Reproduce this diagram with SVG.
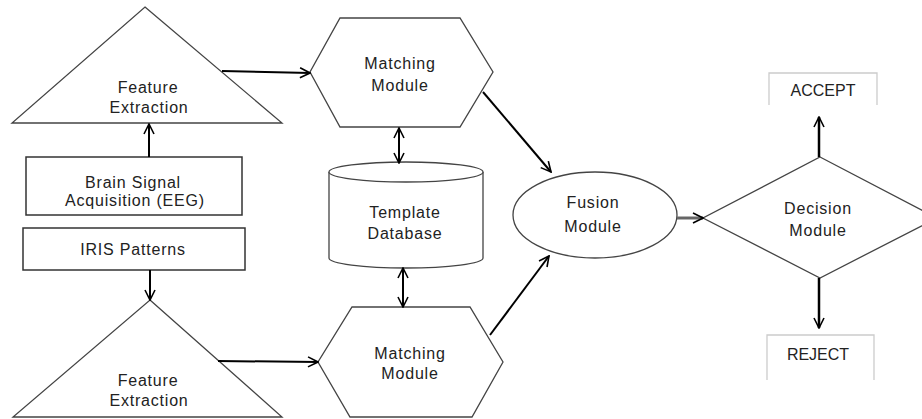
<svg xmlns="http://www.w3.org/2000/svg" width="922" height="419" viewBox="0 0 922 419">
<defs>
<marker id="ah" viewBox="0 0 12 12" refX="11" refY="6" markerWidth="12" markerHeight="12" markerUnits="userSpaceOnUse" orient="auto-start-reverse">
<path d="M1,1 L11,6 L1,11" fill="none" stroke="#000" stroke-width="1.6"/>
</marker>
</defs>
<style>
.shape{fill:#fff;stroke:#444;stroke-width:1.3}
.box{fill:#fff;stroke:#333;stroke-width:1.5}
.open{fill:none;stroke:#ccc;stroke-width:1.3}
text{font-family:"Liberation Sans",Arial,sans-serif;font-size:16px;fill:#222;text-anchor:middle;letter-spacing:0.8px}
.conn{stroke:#000;stroke-width:2;fill:none}
</style>
<rect width="922" height="419" fill="#fff"/>
<g id="fe-top">
<polygon class="shape" points="145,7 282,123 12,123"/>
<text x="148" y="93">Feature</text>
<text x="149" y="113">Extraction</text>
</g>
<g id="brain">
<rect class="box" x="26" y="157" width="216" height="58"/>
<text x="133" y="188">Brain Signal</text>
<text x="135" y="206">Acquisition (EEG)</text>
</g>
<g id="iris">
<rect class="box" x="23" y="228" width="222" height="42"/>
<text x="133" y="255">IRIS Patterns</text>
</g>
<g id="fe-bottom">
<polygon class="shape" points="150,300 282,417 13,417"/>
<text x="148" y="386">Feature</text>
<text x="149" y="406">Extraction</text>
</g>
<g id="match-top">
<polygon class="shape" points="340,18 460,18 493,72 460,127 340,127 310,72"/>
<text x="400" y="69">Matching</text>
<text x="400" y="91">Module</text>
</g>
<g id="db">
<path class="shape" d="M329,172 L329,258 A77,10 0 0 0 483,258 L483,172"/>
<ellipse class="shape" cx="406" cy="172" rx="77" ry="10"/>
<text x="405" y="218">Template</text>
<text x="405" y="239">Database</text>
</g>
<g id="match-bottom">
<polygon class="shape" points="352,307 470,307 503,362 472,417 350,417 318,362"/>
<text x="410" y="359">Matching</text>
<text x="410" y="379">Module</text>
</g>
<g id="fusion">
<ellipse class="shape" cx="595" cy="215" rx="82" ry="43"/>
<text x="593" y="208">Fusion</text>
<text x="593" y="232">Module</text>
</g>
<g id="decision">
<polygon class="shape" points="820,157 937,218 820,278 703,218"/>
<text x="818" y="214">Decision</text>
<text x="818" y="236">Module</text>
</g>
<g id="accept">
<path class="open" d="M769,105 L769,73 L877,73 L877,105"/>
<text x="823" y="96" style="letter-spacing:0">ACCEPT</text>
</g>
<g id="reject">
<path class="open" d="M767,380 L767,335 L874,335 L874,380"/>
<text x="818" y="360" style="letter-spacing:0">REJECT</text>
</g>
<g id="connectors">
<line class="conn" x1="222" y1="71" x2="310" y2="73" marker-end="url(#ah)"/>
<line class="conn" x1="149" y1="157" x2="149" y2="124" marker-end="url(#ah)"/>
<line class="conn" x1="150" y1="270" x2="150" y2="300" marker-end="url(#ah)"/>
<line class="conn" x1="218" y1="361" x2="318" y2="362" marker-end="url(#ah)"/>
<line class="conn" x1="399" y1="128" x2="399" y2="163" marker-start="url(#ah)" marker-end="url(#ah)"/>
<line class="conn" x1="403" y1="268" x2="403" y2="307" marker-start="url(#ah)" marker-end="url(#ah)"/>
<line class="conn" x1="483" y1="92" x2="551" y2="172" marker-end="url(#ah)"/>
<line class="conn" x1="490" y1="335" x2="549" y2="256" marker-end="url(#ah)"/>
<line class="conn" x1="677" y1="218" x2="703" y2="218" style="stroke:#666;stroke-width:3" marker-end="url(#ah)"/>
<line class="conn" x1="819" y1="157" x2="819" y2="117" style="stroke-width:2.5" marker-end="url(#ah)"/>
<line class="conn" x1="819" y1="278" x2="819" y2="328" style="stroke-width:2.5" marker-end="url(#ah)"/>
</g>
</svg>
